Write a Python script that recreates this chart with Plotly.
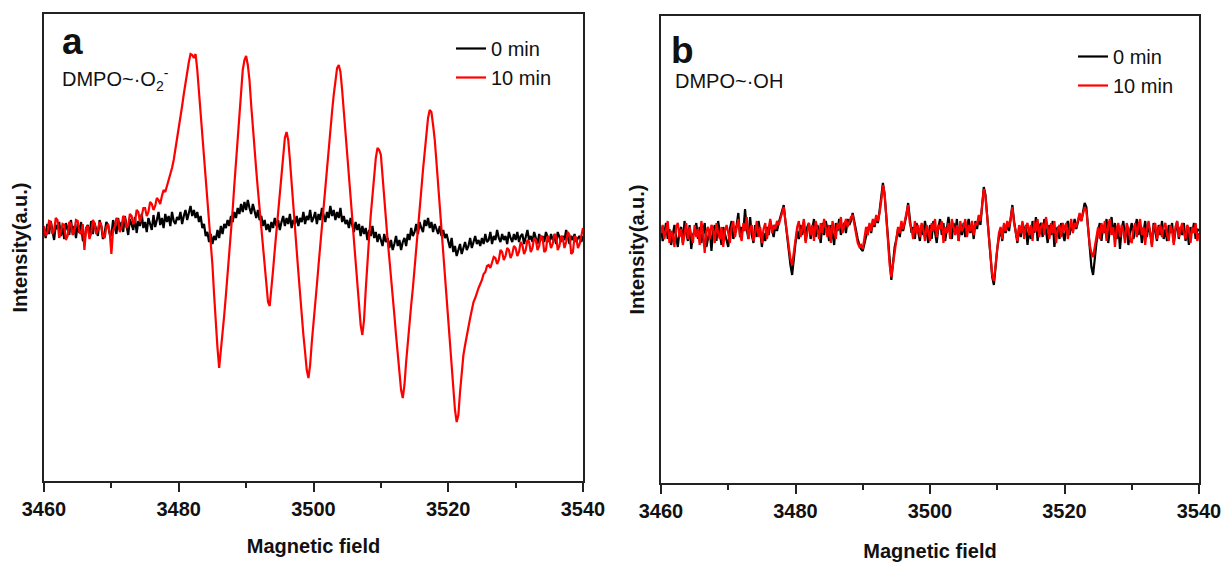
import plotly.graph_objects as go

# Magnetic field sweep (G), 0.25 G steps
field = [
    3460.00, 3460.25, 3460.50, 3460.75, 3461.00, 3461.25, 3461.50, 3461.75, 3462.00, 3462.25,
    3462.50, 3462.75, 3463.00, 3463.25, 3463.50, 3463.75, 3464.00, 3464.25, 3464.50, 3464.75,
    3465.00, 3465.25, 3465.50, 3465.75, 3466.00, 3466.25, 3466.50, 3466.75, 3467.00, 3467.25,
    3467.50, 3467.75, 3468.00, 3468.25, 3468.50, 3468.75, 3469.00, 3469.25, 3469.50, 3469.75,
    3470.00, 3470.25, 3470.50, 3470.75, 3471.00, 3471.25, 3471.50, 3471.75, 3472.00, 3472.25,
    3472.50, 3472.75, 3473.00, 3473.25, 3473.50, 3473.75, 3474.00, 3474.25, 3474.50, 3474.75,
    3475.00, 3475.25, 3475.50, 3475.75, 3476.00, 3476.25, 3476.50, 3476.75, 3477.00, 3477.25,
    3477.50, 3477.75, 3478.00, 3478.25, 3478.50, 3478.75, 3479.00, 3479.25, 3479.50, 3479.75,
    3480.00, 3480.25, 3480.50, 3480.75, 3481.00, 3481.25, 3481.50, 3481.75, 3482.00, 3482.25,
    3482.50, 3482.75, 3483.00, 3483.25, 3483.50, 3483.75, 3484.00, 3484.25, 3484.50, 3484.75,
    3485.00, 3485.25, 3485.50, 3485.75, 3486.00, 3486.25, 3486.50, 3486.75, 3487.00, 3487.25,
    3487.50, 3487.75, 3488.00, 3488.25, 3488.50, 3488.75, 3489.00, 3489.25, 3489.50, 3489.75,
    3490.00, 3490.25, 3490.50, 3490.75, 3491.00, 3491.25, 3491.50, 3491.75, 3492.00, 3492.25,
    3492.50, 3492.75, 3493.00, 3493.25, 3493.50, 3493.75, 3494.00, 3494.25, 3494.50, 3494.75,
    3495.00, 3495.25, 3495.50, 3495.75, 3496.00, 3496.25, 3496.50, 3496.75, 3497.00, 3497.25,
    3497.50, 3497.75, 3498.00, 3498.25, 3498.50, 3498.75, 3499.00, 3499.25, 3499.50, 3499.75,
    3500.00, 3500.25, 3500.50, 3500.75, 3501.00, 3501.25, 3501.50, 3501.75, 3502.00, 3502.25,
    3502.50, 3502.75, 3503.00, 3503.25, 3503.50, 3503.75, 3504.00, 3504.25, 3504.50, 3504.75,
    3505.00, 3505.25, 3505.50, 3505.75, 3506.00, 3506.25, 3506.50, 3506.75, 3507.00, 3507.25,
    3507.50, 3507.75, 3508.00, 3508.25, 3508.50, 3508.75, 3509.00, 3509.25, 3509.50, 3509.75,
    3510.00, 3510.25, 3510.50, 3510.75, 3511.00, 3511.25, 3511.50, 3511.75, 3512.00, 3512.25,
    3512.50, 3512.75, 3513.00, 3513.25, 3513.50, 3513.75, 3514.00, 3514.25, 3514.50, 3514.75,
    3515.00, 3515.25, 3515.50, 3515.75, 3516.00, 3516.25, 3516.50, 3516.75, 3517.00, 3517.25,
    3517.50, 3517.75, 3518.00, 3518.25, 3518.50, 3518.75, 3519.00, 3519.25, 3519.50, 3519.75,
    3520.00, 3520.25, 3520.50, 3520.75, 3521.00, 3521.25, 3521.50, 3521.75, 3522.00, 3522.25,
    3522.50, 3522.75, 3523.00, 3523.25, 3523.50, 3523.75, 3524.00, 3524.25, 3524.50, 3524.75,
    3525.00, 3525.25, 3525.50, 3525.75, 3526.00, 3526.25, 3526.50, 3526.75, 3527.00, 3527.25,
    3527.50, 3527.75, 3528.00, 3528.25, 3528.50, 3528.75, 3529.00, 3529.25, 3529.50, 3529.75,
    3530.00, 3530.25, 3530.50, 3530.75, 3531.00, 3531.25, 3531.50, 3531.75, 3532.00, 3532.25,
    3532.50, 3532.75, 3533.00, 3533.25, 3533.50, 3533.75, 3534.00, 3534.25, 3534.50, 3534.75,
    3535.00, 3535.25, 3535.50, 3535.75, 3536.00, 3536.25, 3536.50, 3536.75, 3537.00, 3537.25,
    3537.50, 3537.75, 3538.00, 3538.25, 3538.50, 3538.75, 3539.00, 3539.25, 3539.50, 3539.75,
    3540.00,
]

# Panel a: DMPO~.O2-  (intensity, a.u.), one row = 5 G
a_0min = [
    2, -8, 6, -4, 9, -2, -10, 5, 1, 8, -6, 3, -9, 7, 0, -5, 10, -3, 4, -8,
    6, -3, 8, -10, -12, 2, 5, -7, 9, -4, 7, -1, -6, 10, 4, -9, -3, 8, 5, -4,
    -6, 10, 2, -4, 12, 0, 8, -2, 14, 3, -5, 11, 6, 0, 13, -3, 9, 4, 16, 2,
    8, -2, 12, 6, 0, 15, 3, 10, 18, 5, 12, 2, 16, 8, 14, 4, 18, 9, 6, 13,
    10, 18, 6, 14, 20, 10, 16, 24, 14, 20, 12, 18, 8, 14, 2, 6, -6, -2, -12, -4,
    -14, -6, -10, 0, -8, 4, -4, 6, 2, 10, 4, 14, 8, 18, 12, 22, 16, 26, 18, 28,
    20, 30, 22, 16, 26, 18, 12, 20, 10, 14, 4, 10, 0, 6, -2, 8, 2, 12, 4, 10,
    0, 8, 14, 4, 12, 6, 16, 2, 10, 6, 14, 4, 12, 8, 18, 6, 14, 10, 20, 8,
    12, 18, 6, 16, 10, 22, 14, 8, 18, 12, 24, 14, 20, 10, 18, 12, 22, 8, 14, 6,
    10, 2, 12, 4, -2, 8, 0, 6, -6, 4, -4, 2, -10, 0, -6, 4, -8, -2, -12, -4,
    -10, -16, -4, -12, -8, -18, -10, -20, -14, -6, -16, -10, -20, -12, -8, -16, -4, -10, 2, -6,
    -2, 6, -4, 8, 2, -2, 10, 4, 12, 2, 8, -2, 6, 0, -4, 4, -6, 0, -8, -4,
    -12, -18, -8, -22, -16, -26, -20, -14, -24, -18, -12, -20, -16, -8, -18, -12, -6, -14, -10, -16,
    -8, -14, -4, -12, -10, -2, -14, -6, -10, 0, -8, -12, -4, -10, -6, -14, -2, -8, -12, -4,
    -10, -2, -12, -6, -4, -14, -8, 0, -10, -6, -12, -2, -8, -14, -4, -10, -6, -12, -2, -8,
    -12, -4, -10, -6, -14, -2, -8, -12, -6, -10, 0, -8, -14, -6, -10, -4, -12, -8, -6, -12,
    -6,
]
a_10min = [
    4, -6, -3, 9, 8, -4, 0, 12, 10, -8, -2, 6, 5, -10, -6, 8, 6, -5, -1, 10,
    9, -2, -4, 6, -20, 2, 4, -9, -3, 10, 7, -4, 0, 8, 5, -6, -8, 3, 6, -2,
    -24, 0, 3, 12, 10, -2, 2, 14, 12, 2, 5, 16, 14, 6, 8, 20, 18, 8, 14, 22,
    22, 14, 18, 28, 26, 20, 24, 32, 30, 26, 34, 40, 38, 44, 48, 55, 62, 70, 80, 90,
    100, 112, 124, 136, 148, 158, 168, 176, 175, 172, 176, 160, 138, 118, 97, 76, 55, 34, 14, -10,
    -35, -65, -95, -118, -138, -122, -105, -85, -65, -45, -25, -2, 20, 45, 70, 95, 120, 142, 160, 170,
    174, 165, 150, 125, 100, 80, 60, 40, 20, 0, -20, -40, -60, -72, -76, -60, -40, -20, 0, 20,
    40, 60, 80, 92, 98, 90, 70, 45, 20, 0, -20, -42, -65, -85, -105, -122, -140, -148, -135, -112,
    -90, -72, -55, -35, -15, 5, 25, 42, 60, 80, 100, 118, 135, 150, 162, 165, 158, 140, 120, 100,
    80, 58, 35, 12, -10, -32, -55, -75, -95, -105, -90, -60, -30, -8, 15, 35, 55, 72, 82, 80,
    75, 52, 30, 10, -10, -28, -45, -65, -85, -105, -125, -142, -160, -168, -155, -132, -110, -92, -75, -58,
    -40, -20, 0, 20, 40, 60, 80, 96, 112, 120, 118, 105, 90, 68, 45, 22, 0, -22, -45, -68,
    -90, -112, -135, -158, -180, -192, -185, -162, -140, -125, -115, -105, -95, -88, -80, -72, -68, -62, -58, -54,
    -50, -44, -42, -36, -35, -38, -33, -27, -28, -34, -30, -20, -22, -30, -26, -18, -20, -28, -24, -16,
    -18, -26, -22, -12, -15, -24, -20, -10, -12, -22, -18, -8, -10, -20, -16, -6, -8, -22, -20, -6,
    -10, -18, -14, -4, -6, -20, -16, -6, -8, -18, -12, -2, -5, -24, -22, -6, -8, -18, -14, -4,
    2,
]

# Panel b: DMPO~.OH  (intensity, a.u.), one row = 5 G
b_0min = [
    8, -6, 2, 12, -4, 6, -10, 0, 10, -2, -12, 4, 8, -8, 14, 2, -6, 10, -14, 0,
    4, 12, -4, 8, -8, 2, 12, -12, -2, 6, -16, 4, 10, -6, 14, 0, -10, 8, 2, -6,
    -12, 6, 14, -4, 2, 10, 22, -2, 8, 4, 26, 6, -4, 18, 0, -8, 10, -2, 14, 4,
    -12, 2, -6, 8, 0, 14, 6, -2, 10, 4, 12, 18, 24, 30, 14, -2, -18, -30, -40, -20,
    -8, 4, -4, 10, 0, 14, -6, 8, 12, -4, 6, 16, -2, 10, 4, -8, 12, 0, 14, 6,
    -6, 10, 2, -10, 12, 4, 16, 0, 8, 12, 2, 16, 10, 14, 22, 12, 4, -4, -10, -14,
    -16, -8, -2, 6, 10, 2, 14, 8, 18, 12, 24, 36, 52, 40, 18, -10, -32, -45, -28, -12,
    -4, 6, -2, 10, 4, 12, 20, 32, 14, 2, 8, -4, 12, 4, -6, 10, 0, 14, 2, -8,
    10, -4, 14, 2, -8, 8, 16, 0, 12, -6, 6, 18, 4, -4, 12, 2, 16, -6, 8, 0,
    12, -2, 8, 16, 2, 10, -4, 14, 6, 18, 10, 26, 48, 40, 20, -5, -28, -42, -50, -30,
    -14, -2, 6, -6, 10, 2, 12, 4, 18, 30, 14, 2, -8, 8, -2, 12, 0, 10, -10, 6,
    -4, 14, 2, 18, -6, 8, 12, -2, 16, 4, -8, 10, 0, 14, -12, 4, 8, -4, 12, 2,
    -6, 8, 14, 0, 10, 4, 16, 6, 12, 20, 14, 24, 32, 28, 10, -14, -32, -40, -22, -8,
    4, 12, -6, 10, 2, 16, -8, 8, 18, 0, 12, -4, 10, -14, 6, 14, -2, 8, -10, 4,
    12, -4, 8, 16, 0, 10, -8, 6, 14, -2, 10, 2, -10, 12, 4, -6, 10, 0, 14, -4,
    6, -6, 10, 2, 12, -8, 4, 14, -4, 8, 0, 12, -6, 6, -10, 8, 2, 12, -4, 6,
    4,
]
b_10min = [
    2, 10, -4, 6, 14, -8, 4, 0, -12, 8, 12, -2, 6, -10, 4, 12, -4, 8, 0, -8,
    10, -2, 6, -10, 14, 2, -18, 4, 8, -4, 10, 6, -8, 12, 2, -4, 8, -12, 4, 10,
    2, -8, 8, 14, -2, 6, 16, 0, -6, 12, 4, 18, -4, 6, 10, -6, 2, 14, -2, 8,
    -8, 6, 12, -4, 8, 16, 2, 10, 6, 14, 10, 16, 22, 28, 14, 0, -14, -24, -30, -16,
    -4, 8, 14, -2, 6, 16, -8, 4, 12, 0, 10, -6, 14, 6, -4, 12, 2, 16, 8, -2,
    10, -8, 14, 4, -4, 12, 6, 18, 2, 10, 16, 8, 14, 18, 20, 10, 0, -8, -12, -10,
    -14, -4, 8, 0, 12, 4, 16, 10, 20, 14, 22, 34, 50, 42, 20, -8, -30, -42, -30, -14,
    -2, 8, 2, 14, 6, 16, 22, 30, 12, 6, -4, 14, 2, 10, -2, 12, 6, -6, 10, 4,
    -6, 12, 4, 16, -2, 10, 6, 14, -8, 8, 2, 12, -4, 16, 6, 0, 10, -6, 14, 4,
    8, 16, -2, 10, 4, 14, 0, 12, 10, 20, 14, 28, 46, 38, 18, -4, -26, -40, -46, -28,
    -12, 2, 8, -4, 12, 4, 14, 8, 16, 28, 12, 4, -6, 10, 2, 14, -4, 8, 12, 0,
    10, -6, 14, 4, 16, -2, 8, 12, 0, 18, 6, -4, 12, 2, 14, -8, 6, 10, -2, 12,
    4, 12, -4, 8, 16, 2, 12, 8, 16, 22, 14, 20, 28, 24, 8, -10, -18, -22, -12, -2,
    8, -4, 12, 2, 14, -6, 10, 16, 0, 8, -12, 6, 12, -2, 10, 4, -8, 12, 6, -4,
    -8, 6, 12, -2, 10, 16, 0, 8, -10, 6, 14, 2, -12, 8, 12, -4, 6, 10, -2, 8,
    12, 0, -6, 10, 4, -10, 8, 14, -2, 6, 12, 2, -4, 10, 6, -8, 8, 2, 12, -6,
    2,
]

series_names = ["0 min", "10 min"]
series_colors = ["#000000", "#FF0000"]
panel_labels = ["a", "b"]
species_labels = ["DMPO~·O<sub>2</sub><sup>-</sup>", "DMPO~·OH"]
x_title = "Magnetic field"
y_title = "Intensity(a.u.)"

FONT = "Liberation Sans, Arial, sans-serif"
W, H = 1223, 562


def px(x):
    return x / W


def py(y):
    return 1 - y / H


fig = go.Figure()
for vals, name, col in zip([a_0min, a_10min], series_names, series_colors):
    fig.add_trace(go.Scatter(x=field, y=vals, mode="lines", name=name,
                             line=dict(color=col, width=2.2),
                             xaxis="x", yaxis="y", legend="legend",
                             legendgroup="a" + name))
for vals, name, col in zip([b_0min, b_10min], series_names, series_colors):
    fig.add_trace(go.Scatter(x=field, y=vals, mode="lines", name=name,
                             line=dict(color=col, width=2.2),
                             xaxis="x2", yaxis="y2", legend="legend2",
                             legendgroup="b" + name))

frame = "#222222"


def xaxis_cfg(standoff):
    return dict(range=[3460, 3540], tickmode="linear", tick0=3460, dtick=20,
                ticks="outside", ticklen=9, tickwidth=1.5, tickcolor=frame,
                showline=True, linecolor=frame, linewidth=1.6, mirror=True,
                showgrid=False, zeroline=False, automargin=False,
                tickfont=dict(size=20, weight="bold", color="#111"),
                minor=dict(dtick=10, tick0=3460, ticks="outside", ticklen=5,
                           tickwidth=1.5, tickcolor=frame, showgrid=False),
                title=dict(text=x_title, font=dict(size=20, weight="bold", color="#111"),
                           standoff=standoff))


ycommon = dict(showline=True, linecolor=frame, linewidth=1.6, mirror=True,
               showgrid=False, zeroline=False, showticklabels=False, ticks="",
               automargin=False,
               title=dict(text=y_title, font=dict(size=20, weight="bold", color="#111"),
                          standoff=9))

fig.update_layout(
    width=W, height=H, margin=dict(l=0, r=0, t=0, b=0, autoexpand=False),
    paper_bgcolor="white", plot_bgcolor="white",
    font=dict(family=FONT, color="black"),
    xaxis=dict(domain=[px(44), px(583)], anchor="y", **xaxis_cfg(20)),
    yaxis=dict(domain=[py(481), py(14)], anchor="x", range=[-251, 216], **ycommon),
    xaxis2=dict(domain=[px(661), px(1199)], anchor="y2", **xaxis_cfg(25)),
    yaxis2=dict(domain=[py(483), py(16)], anchor="x2", range=[-248, 219], **ycommon),
    legend=dict(x=px(451), y=py(29), xanchor="left", yanchor="top",
                bgcolor="rgba(0,0,0,0)", borderwidth=0, traceorder="grouped",
                tracegroupgap=0, font=dict(size=20, color="#111")),
    legend2=dict(x=px(1073), y=py(37), xanchor="left", yanchor="top",
                 bgcolor="rgba(0,0,0,0)", borderwidth=0, traceorder="grouped",
                 tracegroupgap=0, font=dict(size=20, color="#111")),
)

annos = [
    ("<b>" + panel_labels[0] + "</b>", 60, 42, 37),
    (species_labels[0], 60, 80, 20),
    ("<b>" + panel_labels[1] + "</b>", 669, 51, 37),
    (species_labels[1], 673, 81, 20),
]
for text, ax_, ay_, size in annos:
    fig.add_annotation(text=text, xref="paper", yref="paper", x=px(ax_), y=py(ay_),
                       xanchor="left", yanchor="middle", showarrow=False,
                       font=dict(family=FONT, size=size, color="#111"))

fig.write_html("out.html", config={"displayModeBar": False},
               post_script="document.body.style.margin='0';document.body.style.overflow='hidden';")
